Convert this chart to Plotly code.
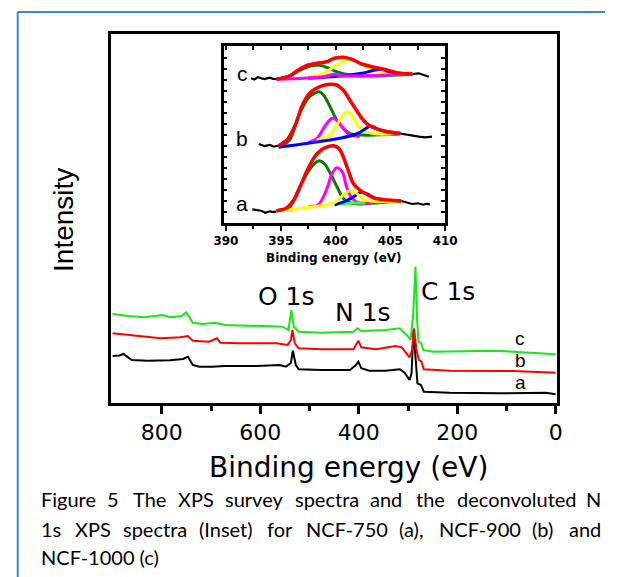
import plotly.graph_objects as go

# ---------------- survey spectra (main panel) ----------------
# binding energy (eV) / intensity (arb. units)
survey_E_a = [900, 886, 878, 861, 829, 783, 757, 747, 737, 724, 698, 672, 607, 561, 548, 538, 534, 528, 522,
              476, 418, 406, 401, 395, 379, 346, 317, 307, 297, 293, 289, 285, 281, 274, 268, 216, 118, 20, 0.6]
survey_I_a = [47, 47.5, 49, 43, 42.3, 42.7, 44, 46.3, 38, 36.3, 36.3, 37, 37, 38, 36.3, 40, 52.3, 38, 33.7,
              33, 33, 38, 41.3, 34.7, 32.3, 32.3, 33.7, 30.3, 23, 29.7, 73, 43, 19.7, 18, 11.3, 10.3, 9.7, 10.3, 8.7]

survey_E_b = [900, 868, 835, 802, 763, 747, 737, 704, 688, 681, 639, 567, 545, 538, 535, 530, 522, 476, 411,
              401, 395, 365, 326, 313, 297, 292, 288, 283, 278, 273, 268, 216, 86, 0.6]
survey_I_b = [69.7, 68, 65.7, 64.7, 65.7, 67, 62.3, 61.3, 64.7, 60.3, 59.7, 59.7, 58, 63, 73, 59.7, 54.7, 53.7, 53.7,
              62.3, 55.7, 53.7, 57, 55.7, 45.7, 53, 74.7, 53, 43, 41.3, 33.7, 32.3, 32, 30.3]

survey_E_c = [900, 868, 835, 799, 783, 760, 750, 737, 718, 692, 672, 607, 555, 543, 537, 532, 522, 476, 411,
              403, 395, 346, 317, 303, 295, 290, 285, 282, 279, 274, 269, 248, 124, 86, 0.6]
survey_I_c = [89, 87, 85.7, 88, 85.7, 87, 90.7, 80.3, 79, 80.3, 78, 77, 76.3, 73, 93, 76.3, 71.3, 70.3, 71.3,
              74.7, 72, 73, 74.7, 68, 63, 86.3, 136.3, 86.3, 61.3, 60.3, 53, 51.3, 52.3, 51.3, 48.7]

survey_ticks = [800, 600, 400, 200, 0]
survey_minor = [700, 500, 300, 100]
peak_labels = ["O 1s", "N 1s", "C 1s"]
peak_label_E = [547, 391, 219]
peak_label_I = [107, 91, 112]
sample_labels = ["c", "b", "a"]
sample_label_I = [65, 43, 21]

# ---------------- N 1s inset ----------------
# sample a
n1s_a_raw_E = [392.4, 392.8, 393.2, 393.6, 394.0, 394.4, 394.8, 395.5, 396.2, 396.9, 397.5, 398.1, 398.7, 399.3,
               399.8, 400.3, 400.7, 401.2, 401.6, 402.2, 402.8, 403.6, 404.8, 406.0, 406.5, 407.0, 407.5, 408.0,
               408.3, 408.6]
n1s_a_raw = [13.7, 12.8, 12.3, 10.3, 11.7, 11.0, 12.5, 14.5, 23.5, 40, 55, 66.5, 73.5, 76.5,
             77.5, 75, 66.5, 51.5, 40, 33, 29, 25, 23, 22, 20.7, 19, 19.7, 18.3, 19.2, 18.7]
n1s_a_fit_E = [394.6, 395.5, 396.2, 396.9, 397.5, 398.1, 398.7, 399.3, 399.8, 400.3, 400.7, 401.2, 401.6, 402.2,
               402.8, 403.6, 404.8, 406.0]
n1s_a_fit = [12.3, 14.7, 23, 39.7, 54.7, 66.3, 73, 76.3, 77.3, 74.7, 66.3, 51.3, 39.7, 33, 29, 24.7, 23, 22]
n1s_a_g1_E = [394.6, 395.8, 396.6, 397.5, 398.1, 398.5, 399.0, 399.6, 400.2, 400.7, 401.3, 402.2, 403.9, 406.0]
n1s_a_g1 = [12.3, 16, 33, 51.3, 59.7, 62.3, 59, 48, 34.7, 24.7, 20.3, 19, 20.3, 22]
n1s_a_g2_E = [397.5, 398.4, 399.1, 399.7, 400.1, 400.6, 401.0, 401.5, 402.1, 403.4]
n1s_a_g2 = [16.3, 18, 31.3, 49.7, 55.3, 51.3, 36.3, 24.7, 20.3, 20.3]
n1s_a_g3_E = [394.6, 397.0, 399.9, 400.7, 401.3, 401.9, 402.6, 403.6, 406.0]
n1s_a_g3 = [12, 15, 20.3, 28, 32.3, 29.7, 23.7, 21.7, 22]
n1s_a_g4_E = [399.9, 401.0, 401.9, 402.3, 402.9, 403.6, 404.5]
n1s_a_g4 = [18, 22.3, 28, 30.7, 29, 24.7, 22.3]
n1s_a_g5_E = [400.3, 401.5, 402.7]
n1s_a_g5 = [19, 20, 20]

# sample b
n1s_b_raw_E = [393.0, 393.5, 394.0, 394.4, 394.8, 395.6, 396.4, 396.9, 397.5, 398.1, 398.8, 399.5, 400.1, 400.7,
               401.3, 401.9, 402.4, 403.0, 403.9, 404.8, 405.9, 406.5, 407.1, 407.6, 408.2, 408.8]
n1s_b_raw = [79, 77, 78, 76.3, 77.5, 83.5, 100, 116.5, 128.5, 134, 137.5, 139, 138.3, 133.3,
             123, 113.5, 104.5, 98.3, 93.5, 91.5, 89.5, 88, 87, 86.3, 85.7, 86.3]
n1s_b_fit_E = [394.8, 395.6, 396.4, 396.9, 397.5, 398.1, 398.8, 399.5, 400.1, 400.7, 401.3, 401.9, 402.4, 403.0,
               403.9, 404.8, 405.9]
n1s_b_fit = [77, 83, 99.7, 116.3, 128, 133.7, 137.3, 138.7, 138, 133, 123, 113, 104.7, 98, 93.7, 91.3, 89.7]
n1s_b_g1_E = [394.8, 395.8, 396.6, 397.5, 398.1, 398.5, 398.9, 399.5, 400.1, 400.7, 401.3, 402.4, 405.9]
n1s_b_g1 = [76.3, 83, 106.3, 124.7, 129.7, 131.3, 128, 116.3, 103, 94.7, 89.7, 88, 89]
n1s_b_g2_E = [397.5, 398.3, 399.1, 399.7, 400.1, 400.6, 401.2, 402.2]
n1s_b_g2 = [80.3, 84.7, 98, 104.7, 103, 96.3, 89, 86.3]
n1s_b_g3_E = [398.3, 399.5, 400.3, 401.0, 401.5, 402.0, 402.8, 403.9, 405.9]
n1s_b_g3 = [83, 88, 101.3, 111.3, 108, 98, 91.3, 89, 89.7]
n1s_b_g4_E = [394.8, 397.5, 400.4, 401.9, 402.8, 403.2, 403.9, 405.1, 405.9]
n1s_b_g4 = [75.7, 79.7, 84.7, 89, 94.7, 97, 93.7, 90.3, 89.7]

# sample c
n1s_c_raw_E = [392.3, 392.6, 392.9, 393.2, 393.5, 394.0, 394.3, 394.6, 395.8, 396.6, 397.5, 398.3, 399.2, 399.9,
               400.7, 401.5, 402.4, 403.3, 404.4, 405.6, 407.0, 407.6, 408.1, 408.5]
n1s_c_raw = [144.7, 143.5, 145.7, 144.5, 144, 145.3, 144.2, 144, 147, 153.3, 158.3, 160, 161.5, 165,
             166, 164, 159.3, 156.5, 154, 150.5, 149, 149.7, 148, 146.3]
n1s_c_fit_E = [394.6, 395.8, 396.6, 397.5, 398.3, 399.2, 399.9, 400.7, 401.5, 402.4, 403.3, 404.4, 405.6, 407.0]
n1s_c_fit = [144, 147, 153, 158, 159.7, 161.3, 164.7, 165.7, 163.7, 159, 156.3, 153.7, 150.3, 149]
n1s_c_g1_E = [394.6, 395.8, 396.9, 397.8, 398.5, 399.2, 400.1, 401.3, 402.7, 407.0]
n1s_c_g1 = [143.7, 147, 153.7, 157.3, 157.7, 155.7, 151.3, 148, 147, 148.7]
n1s_c_g2_E = [394.6, 398.9, 399.9, 400.5, 401.8, 407.0]
n1s_c_g2 = [143.7, 146.3, 148.7, 147.3, 147, 149]
n1s_c_g3_E = [397.5, 398.9, 400.1, 400.9, 401.5, 402.1, 403.0, 404.1, 405.6, 407.0]
n1s_c_g3 = [146.3, 149.7, 158, 162.3, 163, 160.3, 155, 150.3, 149, 148.7]
n1s_c_g4_E = [397.5, 400.4, 402.4, 403.6, 404.1, 404.9, 405.9, 407.0]
n1s_c_g4 = [144.7, 147, 149.7, 153, 153.7, 151.3, 149, 148.7]

inset_labels = ["c", "b", "a"]
inset_label_I = [150, 85, 20]

caption_lines = [
    "Figure 5 The XPS survey spectra and the deconvoluted N",
    "1s XPS spectra (Inset) for NCF-750 (a), NCF-900 (b) and",
    "NCF-1000 (c)",
]

# ---------------- figure ----------------
W, H = 618, 577


def px(x):
    return x / W


def py(y):
    return (H - y) / H


fig = go.Figure()

# main survey traces
for E, I, col in [(survey_E_a, survey_I_a, "#000000"),
                  (survey_E_b, survey_I_b, "#ff0000"),
                  (survey_E_c, survey_I_c, "#19e619")]:
    fig.add_trace(go.Scatter(x=E, y=I, mode="lines", line=dict(color=col, width=2),
                             xaxis="x", yaxis="y", showlegend=False, hoverinfo="skip"))

# inset traces
GREEN, MAG, YEL, BLUE, RED, LIME = "#0a7a0a", "#ff00ff", "#ffff00", "#0000ff", "#ff0000", "#33ff33"
inset_sets = [
    (n1s_a_raw_E, n1s_a_raw, n1s_a_fit_E, n1s_a_fit,
     [(n1s_a_g1_E, n1s_a_g1, GREEN), (n1s_a_g2_E, n1s_a_g2, MAG), (n1s_a_g5_E, n1s_a_g5, LIME),
      (n1s_a_g4_E, n1s_a_g4, BLUE), (n1s_a_g3_E, n1s_a_g3, YEL)]),
    (n1s_b_raw_E, n1s_b_raw, n1s_b_fit_E, n1s_b_fit,
     [(n1s_b_g1_E, n1s_b_g1, GREEN), (n1s_b_g2_E, n1s_b_g2, MAG), (n1s_b_g3_E, n1s_b_g3, YEL),
      (n1s_b_g4_E, n1s_b_g4, BLUE)]),
    (n1s_c_raw_E, n1s_c_raw, n1s_c_fit_E, n1s_c_fit,
     [(n1s_c_g1_E, n1s_c_g1, GREEN), (n1s_c_g3_E, n1s_c_g3, YEL), (n1s_c_g4_E, n1s_c_g4, BLUE),
      (n1s_c_g2_E, n1s_c_g2, MAG)]),
]
for rawE, raw, fitE, fit, comps in inset_sets:
    fig.add_trace(go.Scatter(x=rawE, y=raw, mode="lines", line=dict(color="#000000", width=2.2),
                             xaxis="x2", yaxis="y2", showlegend=False, hoverinfo="skip"))
    for cE, cI, col in comps:
        fig.add_trace(go.Scatter(x=cE, y=cI, mode="lines", line=dict(color=col, width=3, shape="spline"),
                                 xaxis="x2", yaxis="y2", showlegend=False, hoverinfo="skip"))
    fig.add_trace(go.Scatter(x=fitE, y=fit, mode="lines", line=dict(color=RED, width=3.5, shape="spline"),
                             xaxis="x2", yaxis="y2", showlegend=False, hoverinfo="skip"))

# dummy trace for inset top tick axis
fig.add_trace(go.Scatter(x=[], y=[], xaxis="x3", yaxis="y2", showlegend=False, hoverinfo="skip"))

MAIN_FONT = "DejaVu Sans"
ARIAL = "Liberation Sans, Arial"

fig.update_layout(
    width=W, height=H,
    margin=dict(l=0, r=0, t=0, b=0),
    paper_bgcolor="white", plot_bgcolor="white",
    showlegend=False,
    xaxis=dict(domain=[px(105), px(568)], range=[903, -2], anchor="y",
               showline=True, linewidth=3, linecolor="black", mirror=True,
               ticks="outside", ticklen=8, tickwidth=3, tickcolor="black",
               tickvals=survey_ticks, ticktext=[str(v) for v in survey_ticks],
               minor=dict(tickvals=survey_minor, ticks="outside", ticklen=5, tickwidth=2.5, tickcolor="black"),
               tickfont=dict(family=MAIN_FONT, size=22, color="black"),
               showgrid=False, zeroline=False),
    yaxis=dict(domain=[py(403), py(34)], range=[0, 369], anchor="x",
               showline=True, linewidth=3, linecolor="black", mirror=True,
               showticklabels=False, ticks="", showgrid=False, zeroline=False),
    xaxis2=dict(domain=[px(222), px(452)], range=[389.8, 410], anchor="y2",
                showline=True, linewidth=2.5, linecolor="black", mirror=True,
                ticks="outside", ticklen=5, tickwidth=2, tickcolor="black",
                tick0=390, dtick=5,
                minor=dict(tick0=390, dtick=2.5, ticks="outside", ticklen=3, tickwidth=1.5, tickcolor="black"),
                tickfont=dict(family=MAIN_FONT, size=12, color="black", weight="bold"),
                showgrid=False, zeroline=False),
    xaxis3=dict(range=[389.8, 410], anchor="y2", overlaying="x2", side="top",
                ticks="inside", ticklen=4, tickwidth=1.5, tickcolor="black",
                tick0=390, dtick=2.5, showticklabels=False, showline=False,
                showgrid=False, zeroline=False),
    yaxis2=dict(domain=[py(223), py(46)], range=[0, 177], anchor="x2",
                showline=True, linewidth=2.5, linecolor="black", mirror="ticks",
                ticks="inside", ticklen=4, tickwidth=1.5, tickcolor="black",
                tick0=0, dtick=11, showticklabels=False, showgrid=False, zeroline=False),
)

ann = []
# main axis titles
ann.append(dict(text="Binding energy (eV)", x=px(352), y=py(467), xref="paper", yref="paper",
                xanchor="center", yanchor="middle", showarrow=False,
                font=dict(family=MAIN_FONT, size=28, color="black")))
ann.append(dict(text="Intensity", x=px(55), y=py(220), xref="paper", yref="paper", textangle=-90,
                xanchor="center", yanchor="middle", showarrow=False,
                font=dict(family=ARIAL, size=28, color="black")))
# peak labels
for t, e, i in zip(peak_labels, peak_label_E, peak_label_I):
    ann.append(dict(text=t, x=e, y=i, xref="x", yref="y", showarrow=False,
                    xanchor="center", yanchor="middle",
                    font=dict(family=MAIN_FONT, size=25, color="black")))
# sample labels main
for t, i in zip(sample_labels, sample_label_I):
    ann.append(dict(text=t, x=72, y=i, xref="x", yref="y", showarrow=False,
                    xanchor="center", yanchor="middle",
                    font=dict(family=ARIAL, size=19, color="black")))
# inset labels
for t, i in zip(inset_labels, inset_label_I):
    ann.append(dict(text=t, x=391.5, y=i, xref="x2", yref="y2", showarrow=False,
                    xanchor="center", yanchor="middle",
                    font=dict(family=ARIAL, size=21, color="black")))
ann.append(dict(text="Binding energy (eV)", x=px(337), y=py(258), xref="paper", yref="paper",
                xanchor="center", yanchor="middle", showarrow=False,
                font=dict(family=MAIN_FONT, size=12, color="black", weight="bold")))

# caption (justified word placement for the first two lines; approximate Lato glyph widths in em)
lato = {'F': .53, 'i': .24, 'g': .50, 'u': .56, 'r': .37, 'e': .52, '5': .58, 'T': .55, 'h': .56,
        'X': .62, 'P': .59, 'S': .50, 's': .42, 'v': .50, 'y': .50, 'p': .56, 'c': .46, 't': .35,
        'a': .50, 'n': .56, 'd': .56, 'o': .56, 'l': .24, 'N': .74, '1': .58, '(': .30, ')': .30,
        'I': .27, 'f': .33, 'C': .66, '-': .36, '7': .58, '0': .58, '9': .58, ',': .22, 'b': .56}
CAP_FONT = "Lato"
CAP_SIZE = 20
x_left, x_right = 30, 611
line_y = [499, 529, 557]
for li, line in enumerate(caption_lines):
    if li < 2:
        words = line.split(" ")
        widths = [sum(lato.get(ch, .5) for ch in w) * CAP_SIZE for w in words]
        gap = (x_right - x_left - sum(widths)) / (len(words) - 1)
        xpos = x_left
        for w, wd in zip(words, widths):
            ann.append(dict(text=w, x=px(xpos), y=py(line_y[li]), xref="paper", yref="paper",
                            xanchor="left", yanchor="middle", showarrow=False,
                            font=dict(family=CAP_FONT, size=CAP_SIZE, color="black")))
            xpos += wd + gap
    else:
        ann.append(dict(text=line, x=px(x_left), y=py(line_y[li]), xref="paper", yref="paper",
                        xanchor="left", yanchor="middle", showarrow=False,
                        font=dict(family=CAP_FONT, size=CAP_SIZE, color="black")))

fig.update_layout(annotations=ann)

# blue page border (top and left)
fig.add_shape(type="line", xref="paper", yref="paper", x0=px(8), y0=py(12), x1=1.0, y1=py(12),
              line=dict(color="#3a86d0", width=2))
fig.add_shape(type="line", xref="paper", yref="paper", x0=px(8), y0=py(12), x1=px(8), y1=0,
              line=dict(color="#3a86d0", width=2))

fig.write_html("out.html",
               config={"displayModeBar": False},
               post_script="document.body.style.margin='0';document.body.style.overflow='hidden';")
